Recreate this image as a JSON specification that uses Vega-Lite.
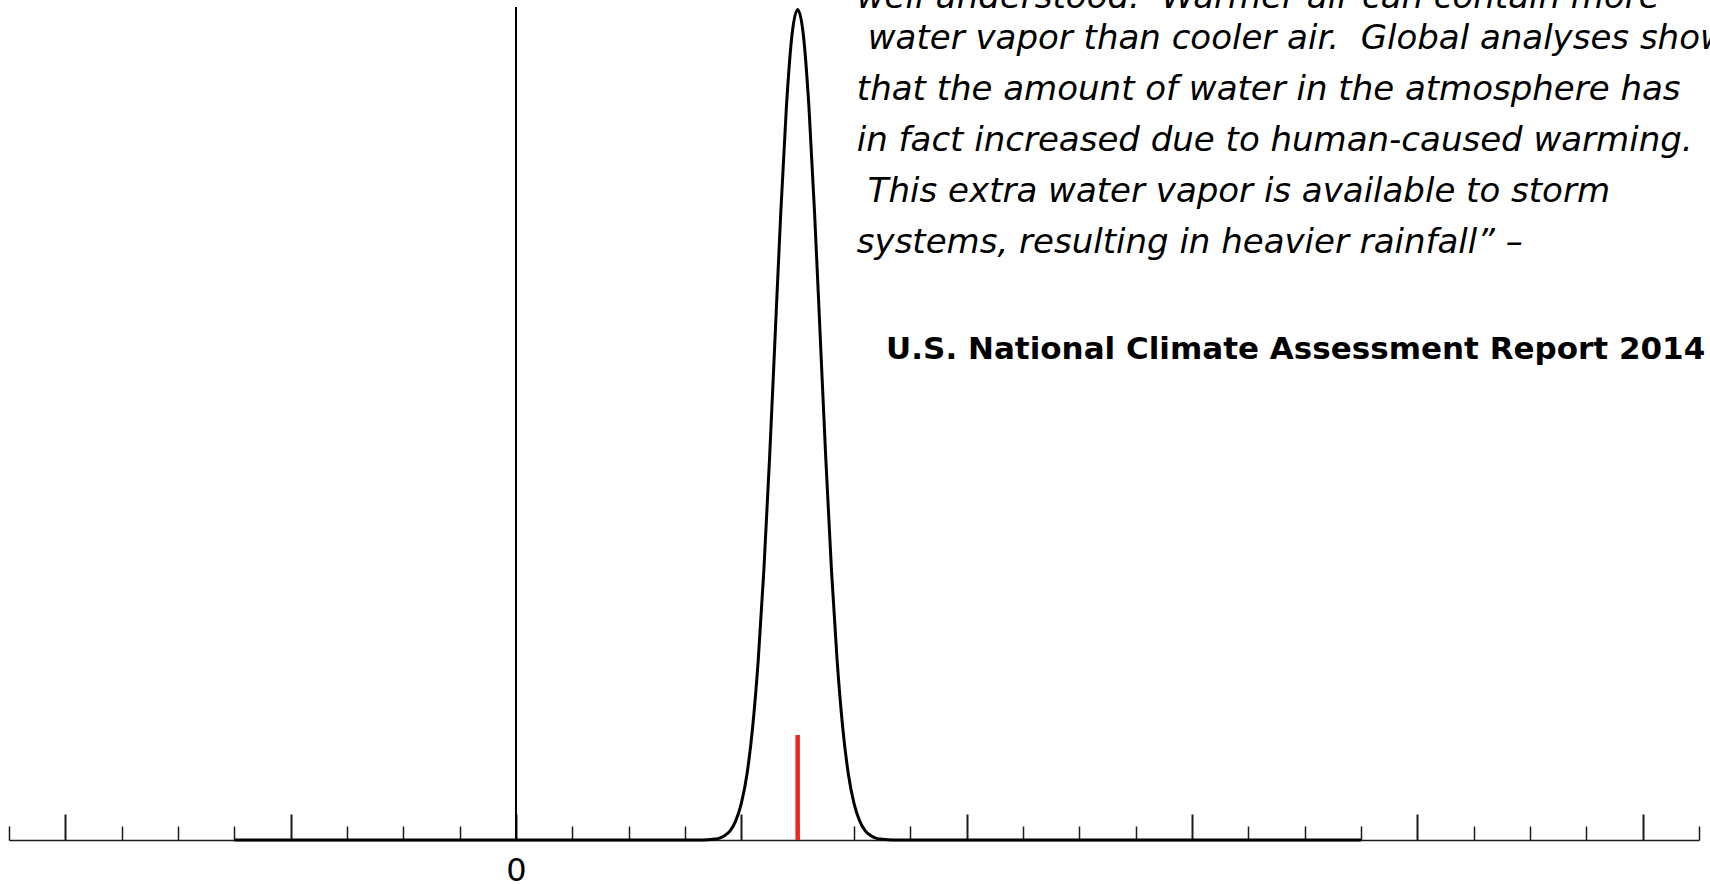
{
  "$schema": "https://vega.github.io/schema/vega-lite/v6.json",
  "width": 1690,
  "height": 833,
  "autosize": {"type": "none"},
  "padding": {"left": 9, "top": 7, "right": 11, "bottom": 44},
  "background": "white",
  "config": {"view": {"stroke": null}},
  "datasets": {
    "curve": [
      {"x": -5, "y": 0}, {"x": 3.2, "y": 0}, {"x": 3.4, "y": 0.0003}, {"x": 3.5, "y": 0.0009},
      {"x": 3.6, "y": 0.002}, {"x": 3.7, "y": 0.005}, {"x": 3.8, "y": 0.011}, {"x": 3.9, "y": 0.023},
      {"x": 4.0, "y": 0.044}, {"x": 4.1, "y": 0.079}, {"x": 4.2, "y": 0.135}, {"x": 4.3, "y": 0.216},
      {"x": 4.4, "y": 0.324}, {"x": 4.5, "y": 0.457}, {"x": 4.6, "y": 0.605}, {"x": 4.7, "y": 0.753},
      {"x": 4.8, "y": 0.880}, {"x": 4.9, "y": 0.967}, {"x": 5.0, "y": 0.997}, {"x": 5.1, "y": 0.967},
      {"x": 5.2, "y": 0.880}, {"x": 5.3, "y": 0.753}, {"x": 5.4, "y": 0.605}, {"x": 5.5, "y": 0.457},
      {"x": 5.6, "y": 0.324}, {"x": 5.7, "y": 0.216}, {"x": 5.8, "y": 0.135}, {"x": 5.9, "y": 0.079},
      {"x": 6.0, "y": 0.044}, {"x": 6.1, "y": 0.023}, {"x": 6.2, "y": 0.011}, {"x": 6.3, "y": 0.005},
      {"x": 6.4, "y": 0.002}, {"x": 6.5, "y": 0.0009}, {"x": 6.6, "y": 0.0003}, {"x": 6.8, "y": 0},
      {"x": 15, "y": 0}
    ],
    "zero": [{"x": 0, "y": 0, "y2": 1}],
    "marker": [{"x": 5, "y": 0, "y2": 0.126}],
    "quote": [
      {"x": 6.05, "y": 0.9985, "text": "well understood.\u00a0 Warmer air can contain more"},
      {"x": 6.245, "y": 0.9496, "text": "water vapor than cooler air.\u00a0 Global analyses show"},
      {"x": 6.05, "y": 0.8884, "text": "that the amount of water in the atmosphere has"},
      {"x": 6.05, "y": 0.8271, "text": "in fact increased due to human-caused warming."},
      {"x": 6.245, "y": 0.7659, "text": "This extra water vapor is available to storm"},
      {"x": 6.05, "y": 0.7047, "text": "systems, resulting in heavier rainfall\u201d \u2013"}
    ],
    "source": [
      {"x": 6.57, "y": 0.5774, "text": "U.S. National Climate Assessment Report 2014"}
    ]
  },
  "layer": [
    {
      "data": {"name": "zero"},
      "mark": {"type": "rule", "color": "black", "strokeWidth": 2},
      "encoding": {
        "x": {
          "field": "x", "type": "quantitative",
          "scale": {"domain": [-9, 21], "nice": false, "zero": false},
          "axis": {
            "values": [-9, -8, -7, -6, -5, -4, -3, -2, -1, 0, 1, 2, 3, 4, 5, 6, 7, 8, 9, 10, 11, 12, 13, 14, 15, 16, 17, 18, 19, 20, 21],
            "title": null,
            "grid": false,
            "domainColor": "#1a1a1a",
            "domainWidth": 1.5,
            "tickColor": "#1a1a1a",
            "tickSize": {"condition": {"test": "datum.value % 4 === 0", "value": -26}, "value": -14},
            "tickWidth": {"condition": {"test": "datum.value % 4 === 0", "value": 2}, "value": 1.5},
            "labelExpr": "datum.value === 0 ? '0' : ''",
            "labelFont": "DejaVu Sans",
            "labelFontSize": 32,
            "labelColor": "black",
            "labelPadding": 41,
            "labelFlush": false,
            "labelOverlap": false,
            "labelBound": false
          }
        },
        "y": {"field": "y", "type": "quantitative", "scale": {"domain": [0, 1], "nice": false, "zero": false}, "axis": null},
        "y2": {"field": "y2"}
      }
    },
    {
      "data": {"name": "marker"},
      "mark": {"type": "rule", "color": "#e8291c", "strokeWidth": 4.5},
      "encoding": {
        "x": {"field": "x", "type": "quantitative"},
        "y": {"field": "y", "type": "quantitative"},
        "y2": {"field": "y2"}
      }
    },
    {
      "data": {"name": "curve"},
      "mark": {"type": "line", "color": "black", "strokeWidth": 3, "interpolate": "monotone"},
      "encoding": {
        "x": {"field": "x", "type": "quantitative"},
        "y": {"field": "y", "type": "quantitative"}
      }
    },
    {
      "data": {"name": "quote"},
      "mark": {"type": "text", "align": "left", "baseline": "alphabetic", "font": "DejaVu Sans", "fontStyle": "italic", "fontSize": 34, "color": "black"},
      "encoding": {
        "x": {"field": "x", "type": "quantitative"},
        "y": {"field": "y", "type": "quantitative"},
        "text": {"field": "text"}
      }
    },
    {
      "data": {"name": "source"},
      "mark": {"type": "text", "align": "left", "baseline": "alphabetic", "font": "DejaVu Sans", "fontWeight": "bold", "fontSize": 31, "color": "black"},
      "encoding": {
        "x": {"field": "x", "type": "quantitative"},
        "y": {"field": "y", "type": "quantitative"},
        "text": {"field": "text"}
      }
    }
  ]
}
